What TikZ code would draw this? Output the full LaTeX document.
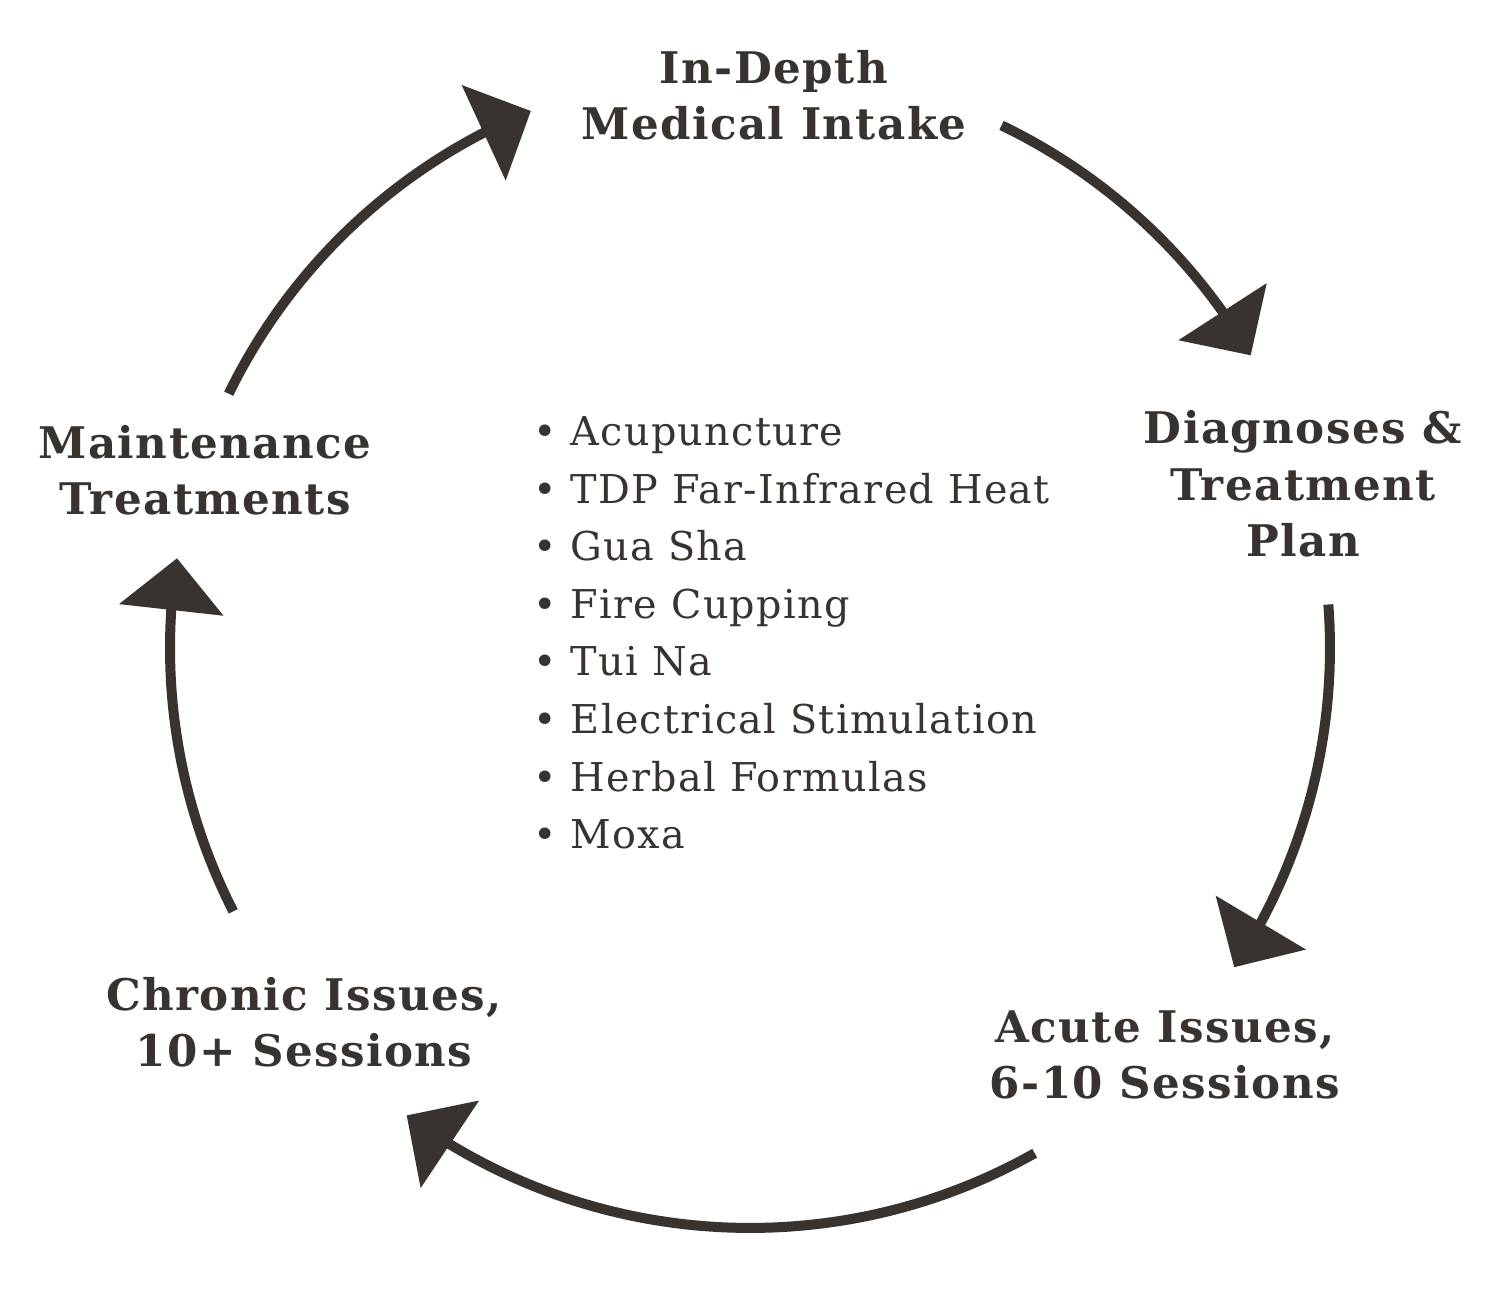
\documentclass[tikz,border=0pt]{standalone}
\usepackage{fontspec}
\setmainfont{DejaVu Serif}[LetterSpace=3.3]
\usepackage{xcolor}
\usetikzlibrary{arrows.meta, bending, positioning, calc}
\definecolor{ink}{HTML}{38332E}
\tikzset{
  stage/.style={font=\bfseries\fontsize{12.4pt}{16pt}\selectfont, align=center, text=ink},
  therapies/.style={font=\fontsize{11.3pt}{16.4pt}\selectfont, align=left, text=ink},
  cyclearrow/.style={draw=ink, line width=1mm, -{Triangle[length=5.2mm, width=10.3mm, flex]}}
}

\begin{document}
\begin{tikzpicture}

  \useasboundingbox (0,0) rectangle (15,13);

  % Mittelpunkt und Radius des Kreislaufs
  \coordinate (C) at (7.5,6.52);
  \def\R{5.8}

  % Stationen
  \node[stage] (intake) at (7.74,12.05) {In-Depth\\Medical Intake};
  \node[stage] (plan) at (13.03,8.16) {Diagnoses \&\\Treatment\\Plan};
  \node[stage] (acute) at (11.65,2.45) {Acute Issues,\\6-10 Sessions};
  \node[stage] (chronic) at (3.04,2.78) {Chronic Issues,\\10+ Sessions};
  \node[stage] (maint) at (2.05,8.30) {Maintenance\\Treatments};

  % Liste in der Mitte
  \node[therapies, anchor=west] (list) at (5.21,6.67) {%
    • Acupuncture\\
    • TDP Far-Infrared Heat\\
    • Gua Sha\\
    • Fire Cupping\\
    • Tui Na\\
    • Electrical Stimulation\\
    • Herbal Formulas\\
    • Moxa};

  % Pfeile auf dem Kreis (im Uhrzeigersinn)
  \draw[cyclearrow] ($(C)+(154:\R)$) arc[start angle=154, end angle=112.2, radius=\R];
  \draw[cyclearrow] ($(C)+(64.3:\R)$) arc[start angle=64.3, end angle=30.3, radius=\R];
  \draw[cyclearrow] ($(C)+(4.3:\R)$) arc[start angle=4.3, end angle=-33.4, radius=\R];
  \draw[cyclearrow] ($(C)+(-60.6:\R)$) arc[start angle=-60.6, end angle=-126.3, radius=\R];
  \draw[cyclearrow] ($(C)+(207:\R)$) arc[start angle=207, end angle=171.1, radius=\R];

\end{tikzpicture}
\end{document}
